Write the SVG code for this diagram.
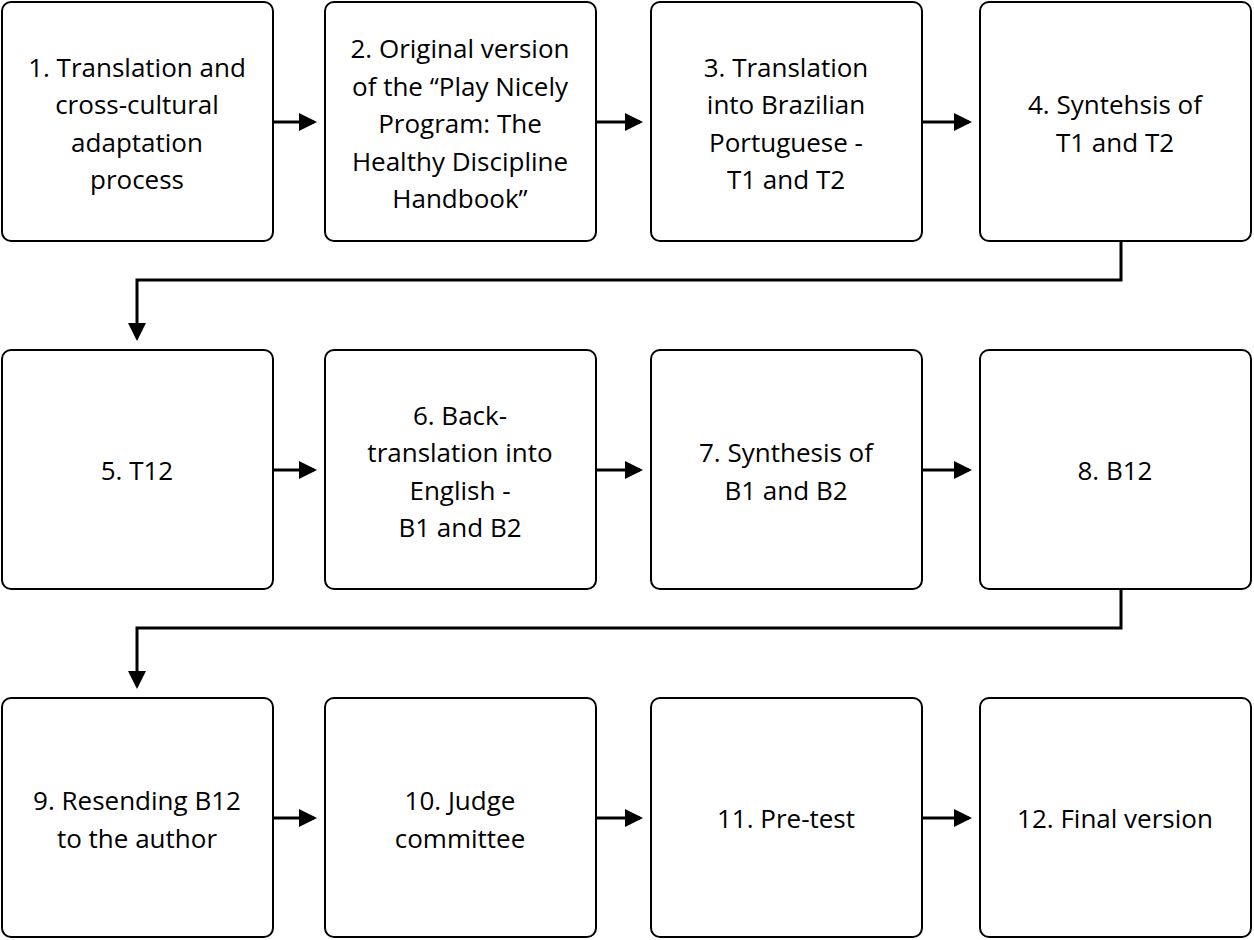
<svg xmlns="http://www.w3.org/2000/svg" width="1254" height="940" viewBox="0 0 1254 940">
<style>
.b{fill:#fff;stroke:#000;stroke-width:2}
.t{font-family:"Open Sans","Liberation Sans",sans-serif;font-size:26px;text-anchor:middle;fill:#000}
.c{fill:none;stroke:#000;stroke-width:3;marker-end:url(#a)}
</style>
<defs><marker id="a" markerWidth="6" markerHeight="6" refX="5" refY="3" orient="auto" markerUnits="strokeWidth"><path d="M0,0L6,3L0,6Z"/></marker></defs>
<rect width="1254" height="940" fill="#fff"/>
<g id="connectors">
<path class="c" d="M274,122H314"/><path class="c" d="M597,122H640"/><path class="c" d="M923,122H969"/>
<path class="c" d="M274,470H314"/><path class="c" d="M597,470H640"/><path class="c" d="M923,470H969"/>
<path class="c" d="M274,818H314"/><path class="c" d="M597,818H640"/><path class="c" d="M923,818H969"/>
<path class="c" d="M1121,242V280H137V338"/>
<path class="c" d="M1121,590V628H137V686"/>
</g>
<g id="n1"><rect class="b" x="2" y="2" width="271" height="239" rx="9"/><text class="t"><tspan x="137" y="77">1. Translation and</tspan><tspan x="137" y="114">cross-cultural</tspan><tspan x="137" y="152">adaptation</tspan><tspan x="137" y="189">process</tspan></text></g>
<g id="n2"><rect class="b" x="325" y="2" width="271" height="239" rx="9"/><text class="t"><tspan x="460" y="58">2. Original version</tspan><tspan x="460" y="96">of the “Play Nicely</tspan><tspan x="460" y="133">Program: The</tspan><tspan x="460" y="171">Healthy Discipline</tspan><tspan x="460" y="208">Handbook”</tspan></text></g>
<g id="n3"><rect class="b" x="651" y="2" width="271" height="239" rx="9"/><text class="t"><tspan x="786" y="77">3. Translation</tspan><tspan x="786" y="114">into Brazilian</tspan><tspan x="786" y="152">Portuguese -</tspan><tspan x="786" y="189">T1 and T2</tspan></text></g>
<g id="n4"><rect class="b" x="980" y="2" width="271" height="239" rx="9"/><text class="t"><tspan x="1115" y="114">4. Syntehsis of</tspan><tspan x="1115" y="152">T1 and T2</tspan></text></g>
<g id="n5"><rect class="b" x="2" y="350" width="271" height="239" rx="9"/><text class="t" x="137" y="480">5. T12</text></g>
<g id="n6"><rect class="b" x="325" y="350" width="271" height="239" rx="9"/><text class="t"><tspan x="460" y="425">6. Back-</tspan><tspan x="460" y="462">translation into</tspan><tspan x="460" y="500">English -</tspan><tspan x="460" y="537">B1 and B2</tspan></text></g>
<g id="n7"><rect class="b" x="651" y="350" width="271" height="239" rx="9"/><text class="t"><tspan x="786" y="462">7. Synthesis of</tspan><tspan x="786" y="500">B1 and B2</tspan></text></g>
<g id="n8"><rect class="b" x="980" y="350" width="271" height="239" rx="9"/><text class="t" x="1115" y="480">8. B12</text></g>
<g id="n9"><rect class="b" x="2" y="698" width="271" height="239" rx="9"/><text class="t"><tspan x="137" y="810">9. Resending B12</tspan><tspan x="137" y="848">to the author</tspan></text></g>
<g id="n10"><rect class="b" x="325" y="698" width="271" height="239" rx="9"/><text class="t"><tspan x="460" y="810">10. Judge</tspan><tspan x="460" y="848">committee</tspan></text></g>
<g id="n11"><rect class="b" x="651" y="698" width="271" height="239" rx="9"/><text class="t" x="786" y="828">11. Pre-test</text></g>
<g id="n12"><rect class="b" x="980" y="698" width="271" height="239" rx="9"/><text class="t" x="1115" y="828">12. Final version</text></g>
</svg>
